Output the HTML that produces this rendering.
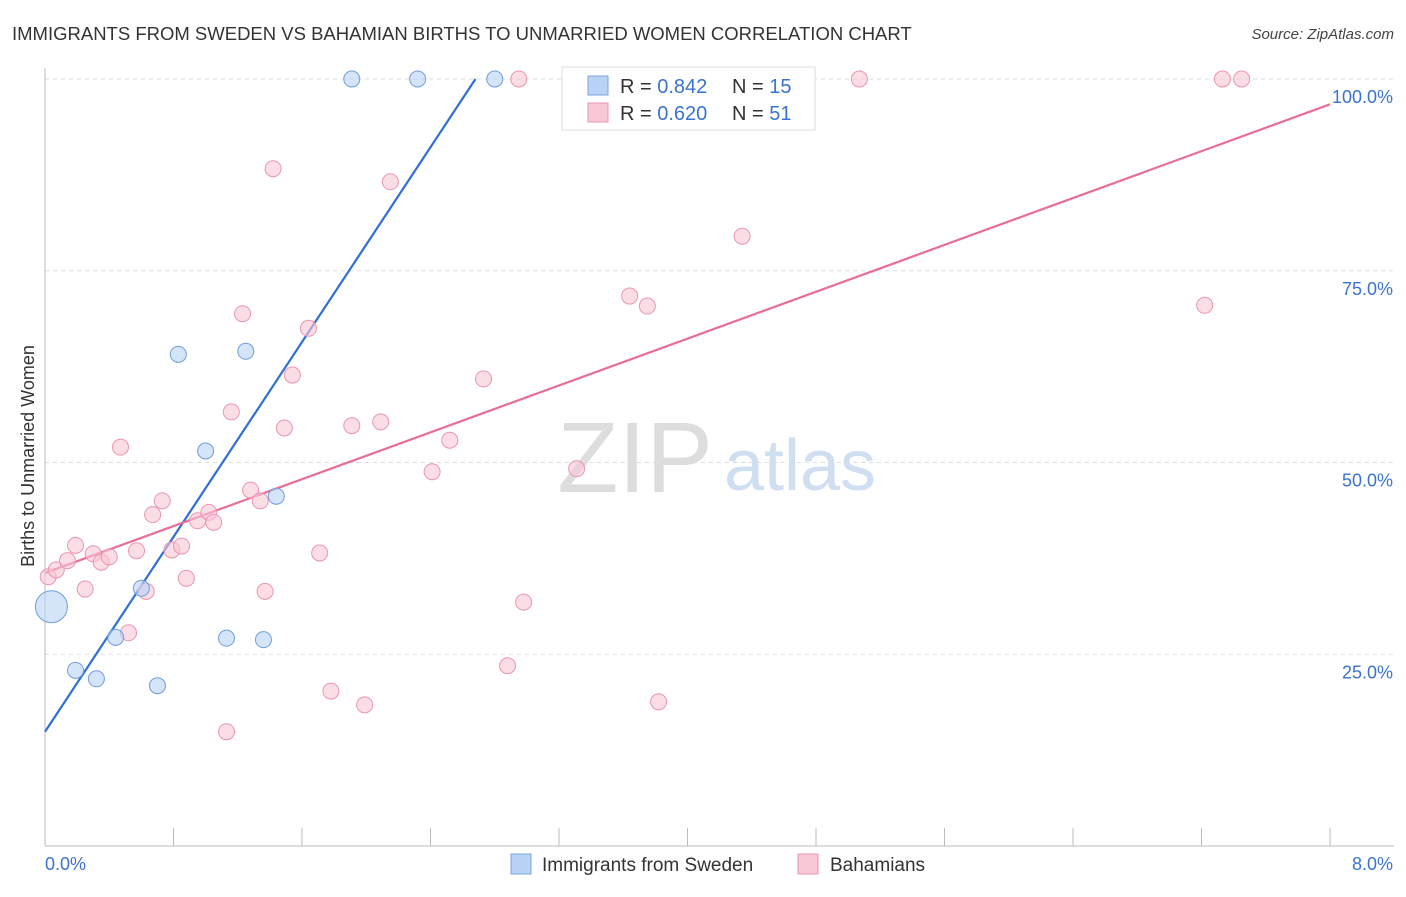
<!DOCTYPE html>
<html><head><meta charset="utf-8"><style>
body{margin:0;background:#fff;font-family:"Liberation Sans",sans-serif;}
svg text{font-family:"Liberation Sans",sans-serif;}
</style></head><body>
<svg id="chart" width="1406" height="892" xmlns="http://www.w3.org/2000/svg">
<text x="12" y="40" font-size="18.5" fill="#333">IMMIGRANTS FROM SWEDEN VS BAHAMIAN BIRTHS TO UNMARRIED WOMEN CORRELATION CHART</text>
<text x="1394" y="39" font-size="15" fill="#444" font-style="italic" text-anchor="end">Source: ZipAtlas.com</text>
<text x="635" y="492" font-size="100" fill="#ddd" font-family="Liberation Serif" text-anchor="middle">ZIP</text>
<text x="800" y="490" font-size="72" fill="#d0def2" text-anchor="middle">atlas</text>
<g id="grid"></g><g id="axes"></g><g id="lines"></g><g id="pts"></g>
<text transform="translate(34,456) rotate(-90)" font-size="18" fill="#333" text-anchor="middle">Births to Unmarried Women</text>
<text x="45" y="870" font-size="18" fill="#3b73d1">0.0%</text>
<text x="1393" y="870" font-size="18" fill="#3b73d1" text-anchor="end">8.0%</text>
<g>
<rect x="562" y="67" width="253" height="63" fill="#fff" stroke="#ddd"/>
<rect x="588" y="76" width="20" height="19" fill="#b8d3f5" stroke="#7aa5e0"/>
<rect x="588" y="103" width="20" height="19" fill="#f9c7d6" stroke="#ec95b0"/>
<text x="620" y="93" font-size="20" fill="#333">R = <tspan fill="#3b73d1">0.842</tspan></text>
<text x="732" y="93" font-size="20" fill="#333">N = <tspan fill="#3b73d1">15</tspan></text>
<text x="620" y="120" font-size="20" fill="#333">R = <tspan fill="#3b73d1">0.620</tspan></text>
<text x="732" y="120" font-size="20" fill="#333">N = <tspan fill="#3b73d1">51</tspan></text>
</g>
<g>
<rect x="511" y="854" width="20" height="20" fill="#b8d3f5" stroke="#7aa5e0"/>
<text x="542" y="871" font-size="19" fill="#333">Immigrants from Sweden</text>
<rect x="798" y="854" width="20" height="20" fill="#f9c7d6" stroke="#ec95b0"/>
<text x="830" y="871" font-size="19" fill="#333">Bahamians</text>
</g>
</svg>
<script>
const yTicks=[25,50,75,100];
const yTickLabels=["25.0%","50.0%","75.0%","100.0%"];
const xTicks=[0,0.8,1.6,2.4,3.2,4.0,4.8,5.6,6.4,7.2,8.0];
const swedenX=[0.04,0.19,0.32,0.44,0.60,0.70,0.83,1.00,1.13,1.25,1.36,1.44,1.91,2.32,2.80];
const swedenY=[31.2,22.9,21.8,27.2,33.6,20.9,64.1,51.5,27.1,64.5,26.9,45.6,100,100,100];
const bahX=[0.02,0.07,0.14,0.19,0.25,0.30,0.35,0.40,0.47,0.52,0.57,0.63,0.67,0.73,0.79,0.85,0.88,0.95,1.02,1.05,1.13,1.16,1.23,1.28,1.34,1.37,1.42,1.49,1.54,1.64,1.71,1.78,1.91,1.99,2.09,2.15,2.41,2.52,2.73,2.88,2.95,2.98,3.31,3.64,3.75,3.82,4.34,5.07,7.22,7.33,7.45];
const bahY=[35.1,36.0,37.2,39.2,33.5,38.1,37.0,37.7,52.0,27.8,38.5,33.2,43.2,45.0,38.6,39.1,34.9,42.4,43.5,42.2,14.9,56.6,69.4,46.4,45.0,33.2,88.3,54.5,61.4,67.5,38.2,20.2,54.8,18.4,55.3,86.6,48.8,52.9,60.9,23.5,100,31.8,49.2,71.7,70.4,18.8,79.5,100,70.5,100,100];
const swedenFit=[[0,14.9],[2.68,100]];
const bahFit=[[0,35.6],[8,96.7]];
const X=v=>45+v/8*1285, Y=v=>846-v/100*767;
const NS="http://www.w3.org/2000/svg";
function mk(tag,attrs,parent){const e=document.createElementNS(NS,tag);for(const k in attrs)e.setAttribute(k,attrs[k]);document.getElementById(parent).appendChild(e);return e;}
yTicks.forEach((t,i)=>{
 const l=mk('line',{x1:45,x2:1394,y1:Y(t),y2:Y(t),stroke:'#ddd','stroke-dasharray':'4,4'},'grid');
 
 
 const tx=mk('text',{x:1393,y:Y(t)+24,'font-size':18,fill:'#3b73d1','text-anchor':'end'},'grid');
 tx.textContent=yTickLabels[i];
 
 
});
const ax=mk('line',{x1:45,x2:1394,y1:846,y2:846,stroke:'#bbb'},'axes');


const ay=mk('line',{x1:45,x2:45,y1:68,y2:846,stroke:'#bbb'},'axes');


xTicks.forEach(t=>{
 const l=mk('line',{x1:X(t),x2:X(t),y1:828,y2:846,stroke:'#bbb'},'axes');
 
 
});
function dot(x,y,r,fill,stroke,name){
 const c=mk('circle',{cx:X(x),cy:Y(y),r:r,fill:fill,stroke:stroke,'stroke-width':1,'fill-opacity':0.6},'pts');
 
 
}
bahX.forEach((x,i)=>dot(x,bahY[i],8,'#f9c7d6','#ec95b0','bahamians-point'));
swedenX.forEach((x,i)=>dot(x,swedenY[i],i===0?16:8,'#b8d3f5','#6f9de0','sweden-point'));
const l1=mk('line',{x1:X(swedenFit[0][0]),y1:Y(swedenFit[0][1]),x2:X(swedenFit[1][0]),y2:Y(swedenFit[1][1]),stroke:'#2f6fd6','stroke-width':2.2},'lines');


const l2=mk('line',{x1:X(bahFit[0][0]),y1:Y(bahFit[0][1]),x2:X(bahFit[1][0]),y2:Y(bahFit[1][1]),stroke:'#e86d98','stroke-width':2.2},'lines');


</script>
</body></html>
